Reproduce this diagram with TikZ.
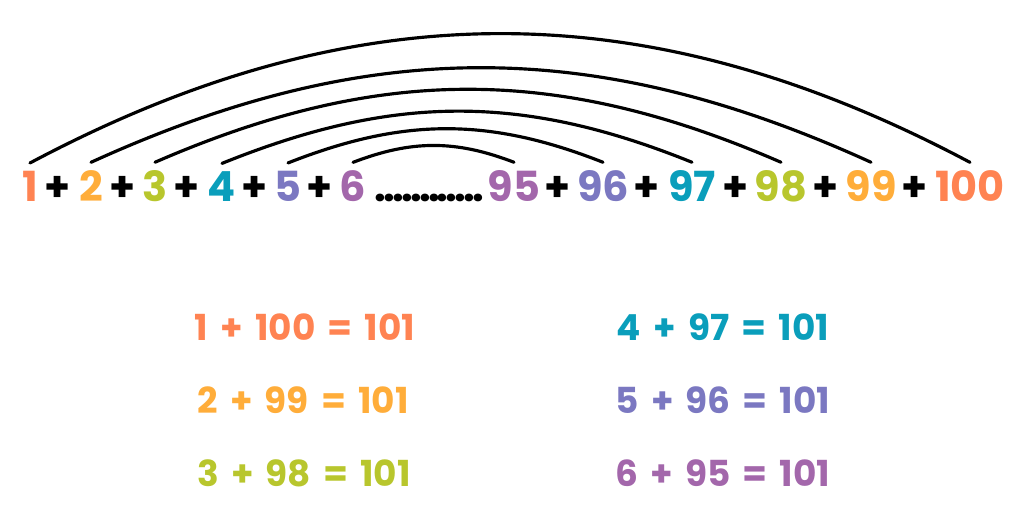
\documentclass[tikz,border=0pt]{standalone}
\usepackage{fontspec}
\setmainfont{Poppins}
\newfontfamily\sumfont{Poppins}[WordSpace=1.6]
\definecolor{cone}{HTML}{FF8352}
\definecolor{ctwo}{HTML}{FFAD3A}
\definecolor{cthree}{HTML}{B8C62D}
\definecolor{cfour}{HTML}{0A9EBB}
\definecolor{cfive}{HTML}{7B78C1}
\definecolor{csix}{HTML}{A367AB}
\newcommand{\dotrow}{\foreach \i in {1,...,12}{.\kern-0.8pt}}
\begin{document}
\begin{tikzpicture}[x=0.01cm,y=0.01cm,line join=round,line cap=round,
		num/.style={anchor=base,inner sep=0pt,font=\fontsize{11.8}{14}\selectfont\bfseries},
		sum/.style={anchor=base,inner sep=0pt,font=\sumfont\fontsize{10.2}{12}\selectfont\bfseries},
		bow/.style={line width=0.9pt}]
		\useasboundingbox (0,0) rectangle (1024,510);
		% top row
		\node[num,text=cone] (n1) at (30,308) {1};
		\node[num] (p1) at (58,308) {+};
		\node[num,text=ctwo] (n2) at (91,308) {2};
		\node[num] (p2) at (123,308) {+};
		\node[num,text=cthree] (n3) at (155,308) {3};
		\node[num] (p3) at (187,308) {+};
		\node[num,text=cfour] (n4) at (222,308) {4};
		\node[num] (p4) at (255,308) {+};
		\node[num,text=cfive] (n5) at (288,308) {5};
		\node[num] (p5) at (320,308) {+};
		\node[num,text=csix] (n6) at (353,308) {6};
		\node[num] (dd) at (428,308) {\dotrow};
		\node[num,text=csix] (n95) at (514,308) {95};
		\node[num] (p6) at (558,308) {+};
		\node[num,text=cfive] (n96) at (603,308) {96};
		\node[num] (p7) at (647,308) {+};
		\node[num,text=cfour] (n97) at (692,308) {97};
		\node[num] (p8) at (736,308) {+};
		\node[num,text=cthree] (n98) at (781,308) {98};
		\node[num] (p9) at (826,308) {+};
		\node[num,text=ctwo] (n99) at (871,308) {99};
		\node[num] (p10) at (915,308) {+};
		\node[num,text=cone] (n100) at (970,308) {100};
		% arcs
		\foreach \a/\b/\ang in {n1/n100/28,n2/n99/24.5,n3/n98/23.5,n4/n97/22,n5/n96/21.5,n6/n95/21}
		\draw[bow] ([yshift=0.08cm]\a.north) to[out=\ang,in=180-\ang] ([yshift=0.08cm]\b.north);
		% sums
		\node[sum,text=cone] (s1) at (305,169) {1 + 100 = 101};
		\node[sum,text=ctwo] (s2) at (303,96) {2 + 99 = 101};
		\node[sum,text=cthree] (s3) at (304,23) {3 + 98 = 101};
		\node[sum,text=cfour] (s4) at (723,169) {4 + 97 = 101};
		\node[sum,text=cfive] (s5) at (723,96) {5 + 96 = 101};
		\node[sum,text=csix] (s6) at (723,23) {6 + 95 = 101};
		\end{tikzpicture}
\end{document}
